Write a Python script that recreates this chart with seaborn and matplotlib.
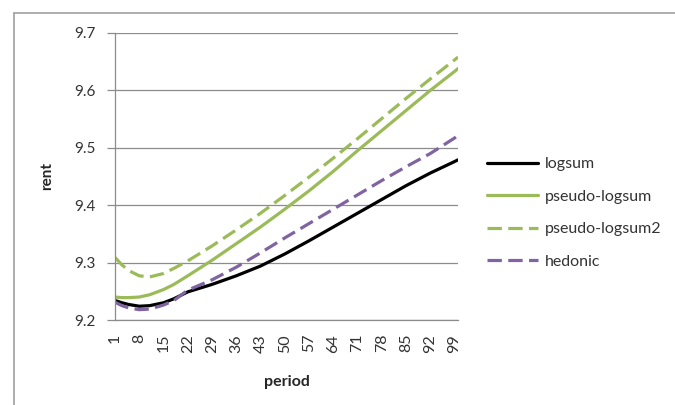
import numpy as np
import pandas as pd
import matplotlib
matplotlib.use("Agg")
import matplotlib.pyplot as plt
from matplotlib.lines import Line2D
import seaborn as sns

# data
period = [1, 3, 5, 8, 11, 15, 18, 22, 29, 36, 43, 50, 57, 64, 71, 78, 85, 92, 99, 100]
logsum = [9.234, 9.230, 9.227, 9.224, 9.225, 9.230, 9.237, 9.249, 9.262, 9.277,
          9.294, 9.315, 9.338, 9.362, 9.386, 9.410, 9.434, 9.456, 9.476, 9.479]
pseudo_logsum = [9.240, 9.239, 9.239, 9.240, 9.244, 9.253, 9.262, 9.277, 9.304, 9.333,
                 9.362, 9.393, 9.425, 9.459, 9.495, 9.530, 9.565, 9.600, 9.633, 9.638]
pseudo_logsum2 = [9.309, 9.296, 9.286, 9.277, 9.275, 9.281, 9.290, 9.303, 9.329, 9.357,
                  9.386, 9.417, 9.449, 9.482, 9.516, 9.551, 9.586, 9.620, 9.653, 9.658]
hedonic = [9.231, 9.225, 9.221, 9.218, 9.219, 9.226, 9.234, 9.252, 9.270, 9.292,
           9.317, 9.343, 9.368, 9.393, 9.418, 9.443, 9.467, 9.490, 9.517, 9.522]

series_names = ["logsum", "pseudo-logsum", "pseudo-logsum2", "hedonic"]
tick_periods = list(range(1, 100, 7))
yticks = [9.2, 9.3, 9.4, 9.5, 9.6, 9.7]

df = pd.concat([
    pd.DataFrame({"period": period, "rent": vals, "model": name})
    for name, vals in zip(series_names, [logsum, pseudo_logsum, pseudo_logsum2, hedonic])
])

palette = {"logsum": "#000000", "pseudo-logsum": "#9BBB59",
           "pseudo-logsum2": "#9BBB59", "hedonic": "#8064A2"}
dashes = {"logsum": "", "pseudo-logsum": "", "pseudo-logsum2": (4.5, 2), "hedonic": (4.5, 2)}

sns.set_style("white")
plt.rcParams["font.family"] = ["Lato", "DejaVu Sans"]

fig = plt.figure(figsize=(6.75, 4.05), dpi=100)
ax = fig.add_axes([115 / 675, 1 - 320 / 405, 343 / 675, 287 / 405])

sns.lineplot(data=df, x="period", y="rent", hue="model", style="model",
             palette=palette, dashes=dashes, linewidth=2.3, ax=ax, legend=True)

ax.set_xlim(1, 100)
ax.set_ylim(9.2, 9.7)
ax.set_yticks(yticks)
ax.set_yticklabels([f"{v:.1f}" for v in yticks])
ax.set_xticks(tick_periods)
ax.set_xticklabels([str(p) for p in tick_periods], rotation=90)

grid_c = "#8C8C8C"
ax.yaxis.grid(True, color=grid_c, linewidth=0.9)
ax.xaxis.grid(False)
for side in ["top", "right"]:
    ax.spines[side].set_visible(False)
for side in ["left", "bottom"]:
    ax.spines[side].set_color(grid_c)
    ax.spines[side].set_linewidth(0.9)
ax.tick_params(axis="y", length=5.8, width=0.9, color=grid_c, pad=8.5,
               labelsize=11, labelcolor="#333333", left=True)
ax.tick_params(axis="x", length=0, pad=10, labelsize=11.5, labelcolor="#333333")

ax.set_xlabel("period", fontsize=11.5, fontweight="bold")
ax.set_ylabel("rent", fontsize=11, fontweight="bold")
ax.xaxis.set_label_coords(0.5, -0.19)
ax.yaxis.set_label_coords(-0.178, 0.5)

handles, labels = ax.get_legend_handles_labels()
ax.get_legend().remove()
fig.legend(handles, labels, loc="center left", bbox_to_anchor=(487 / 675, 1 - 213 / 405),
           frameon=False, fontsize=11.5, handlelength=3.2, handletextpad=0.4,
           labelspacing=1.15, borderpad=0, borderaxespad=0, labelcolor="#333333")

# chart area border (cropped at right and bottom)
border_c = "#A0A0A0"
fig.add_artist(Line2D([14 / 675, 14 / 675], [0, 1 - 13 / 405], color=border_c, linewidth=1.2))
fig.add_artist(Line2D([14 / 675, 1], [1 - 13 / 405, 1 - 13 / 405], color=border_c, linewidth=1.2))

fig.savefig("out.png", dpi=100)
